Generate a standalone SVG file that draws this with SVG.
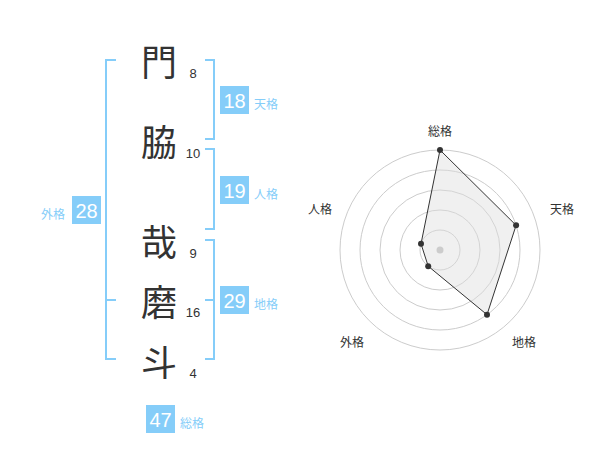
<svg xmlns="http://www.w3.org/2000/svg" width="600" height="470" viewBox="0 0 600 470">
<style>
.kanji{font-family:"Noto Sans CJK JP","Noto Sans CJK SC",sans-serif;font-size:36px;fill:#333;text-anchor:middle;dominant-baseline:central}
.num{font-family:"Liberation Sans",Arial,sans-serif;font-size:13px;fill:#333;text-anchor:middle;dominant-baseline:central}
.br{fill:none;stroke:#85cdf9;stroke-width:2}
.badge{fill:#85cdf9}
.bnum{font-family:"Liberation Sans",Arial,sans-serif;font-size:20px;fill:#fff;text-anchor:middle;dominant-baseline:central}
.blab{font-family:"Noto Sans CJK JP","Noto Sans CJK SC",sans-serif;font-size:12px;fill:#85cdf9;dominant-baseline:central}
.ring{fill:none;stroke:#ccc;stroke-width:1}
.axl{font-family:"Noto Sans CJK JP","Noto Sans CJK SC",sans-serif;font-size:12px;fill:#333;text-anchor:middle;dominant-baseline:central}
.pt{fill:#333}
</style>
<rect width="600" height="470" fill="#fff"/>
<g id="name">
<g id="c1"><text class="kanji" x="159" y="60">門</text><text class="num" x="193" y="73">8</text></g>
<g id="c2"><text class="kanji" x="159" y="140">脇</text><text class="num" x="193" y="153">10</text></g>
<g id="c3"><text class="kanji" x="159" y="240">哉</text><text class="num" x="193" y="253">9</text></g>
<g id="c4"><text class="kanji" x="159" y="300">磨</text><text class="num" x="193" y="312">16</text></g>
<g id="c5"><text class="kanji" x="159" y="360">斗</text><text class="num" x="193" y="373">4</text></g>
</g>
<g id="connectors">
<path class="br" d="M116 60H106V359H116M106 300H116"/>
<path class="br" d="M205 60H214V139H205"/>
<path class="br" d="M205 149H214V229H205"/>
<path class="br" d="M205 240H214V359H205M214 300H205"/>
</g>
<g id="tenkaku"><rect class="badge" x="220" y="86" width="29" height="28"/><text class="bnum" x="234.5" y="100.5">18</text><text class="blab" x="254" y="103">天格</text></g>
<g id="jinkaku"><rect class="badge" x="220" y="176" width="29" height="28"/><text class="bnum" x="234.5" y="190.5">19</text><text class="blab" x="254" y="193">人格</text></g>
<g id="chikaku"><rect class="badge" x="220" y="286" width="29" height="28"/><text class="bnum" x="234.5" y="300.5">29</text><text class="blab" x="254" y="303">地格</text></g>
<g id="gaikaku"><rect class="badge" x="72" y="196" width="29" height="28"/><text class="bnum" x="86.5" y="210.5">28</text><text class="blab" x="41" y="213">外格</text></g>
<g id="soukaku"><rect class="badge" x="146" y="405" width="29" height="28"/><text class="bnum" x="160.5" y="419.5">47</text><text class="blab" x="180" y="422">総格</text></g>
<g id="radar">
<circle class="ring" cx="440" cy="250" r="20"/>
<circle class="ring" cx="440" cy="250" r="40"/>
<circle class="ring" cx="440" cy="250" r="60"/>
<circle class="ring" cx="440" cy="250" r="80"/>
<circle class="ring" cx="440" cy="250" r="100"/>
<polygon points="440,150 516.1,225.3 487,314.7 428.2,266.2 421,243.8" fill="#ddd" fill-opacity="0.45" stroke="#333" stroke-width="1"/>
<circle cx="440" cy="250" r="3.5" fill="#ccc"/>
<circle class="pt" cx="440" cy="150" r="3"/>
<circle class="pt" cx="516.1" cy="225.3" r="3"/>
<circle class="pt" cx="487" cy="314.7" r="3"/>
<circle class="pt" cx="428.2" cy="266.2" r="3"/>
<circle class="pt" cx="421" cy="243.8" r="3"/>
<text class="axl" x="440" y="130">総格</text>
<text class="axl" x="562" y="208">天格</text>
<text class="axl" x="524" y="341">地格</text>
<text class="axl" x="352" y="341">外格</text>
<text class="axl" x="320" y="208">人格</text>
</g>
</svg>
